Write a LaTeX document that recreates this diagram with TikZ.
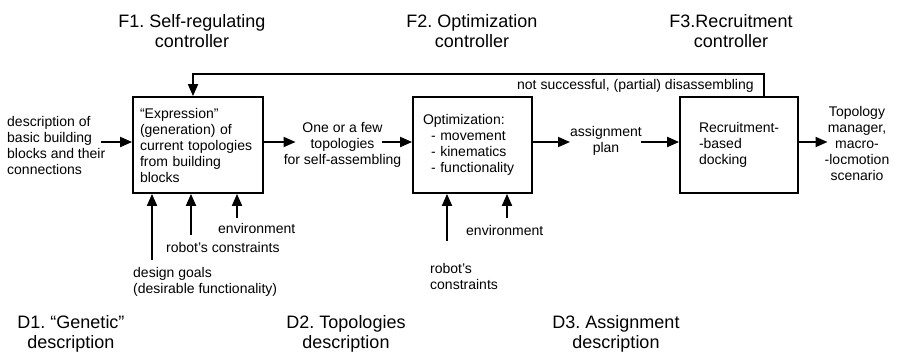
\documentclass[tikz,border=0pt]{standalone}
\usepackage{fontspec}
\setmainfont{Liberation Sans}
\usepackage{tikz}
\usetikzlibrary{arrows.meta}
\frenchspacing
\hyphenpenalty=10000

\tikzset{
  lbl/.style={font=\fontsize{14}{16}\selectfont, inner sep=0pt},
  ttl/.style={font=\fontsize{18}{20}\selectfont, inner sep=0pt, align=center},
  block/.style={draw, line width=1.8pt, minimum height=96pt, align=left,
    inner ysep=0pt, font=\fontsize{14}{16}\selectfont},
  arr/.style={line width=1.8pt, -{Triangle[length=12pt,width=10pt]}}
}

\begin{document}
\begin{tikzpicture}[x=1pt, y=-1pt]
    \useasboundingbox (0,0) rectangle (897,351);

    % controllers
    \node[ttl] (F1) at (192,31) {F1. Self-regulating\\controller};
    \node[ttl] (F2) at (472,31) {F2. Optimization\\controller};
    \node[ttl] (F3) at (731,31) {F3.Recruitment\\controller};

    % blocks
    \node[block, text width=116pt, inner xsep=7pt] (b1) at (198,145)
      {“Expression”\\(generation) of\\current topologies\\from building\\blocks};
    \node[block, text width=99pt, inner xsep=10pt] (b2) at (472.5,145)
      {Optimization:\\\hspace*{8pt}- movement\\\hspace*{8pt}- kinematics\\\hspace*{8pt}- functionality};
    \node[block, text width=90pt, inner xsep=14pt] (b3) at (739,145)
      {\hspace*{5pt}Recruitment-\\\hspace*{5pt}-based\\\hspace*{5pt}docking};
    \coordinate (b1w) at ([yshift=3pt]b1.west);
    \coordinate (b1e) at ([yshift=3pt]b1.east);
    \coordinate (b2w) at ([yshift=3pt]b2.west);
    \coordinate (b2e) at ([yshift=3pt]b2.east);
    \coordinate (b3w) at ([yshift=3pt]b3.west);
    \coordinate (b3e) at ([yshift=3pt]b3.east);

    % flow texts
    \node[lbl, align=left, anchor=west] (in) at (7,145.5)
      {description of\\basic building\\blocks and their\\connections};
    \node[lbl, align=center] (top) at (342.5,145)
      {One or a few\\topologies\\for self-assembling};
    \node[lbl, align=center] (plan) at (606,140.5) {assignment\\plan};
    \node[lbl, align=center] (out) at (857,143.5)
      {Topology\\manager,\\macro-\\-locmotion\\scenario};

    \draw[arr] ([xshift=-31pt]b1w) -- (b1w);
    \draw[arr] (b1e) -- ([xshift=12pt]top.west |- b1e);
    \draw[arr] ([xshift=-19pt]top.east |- b2w) -- (b2w);
    \draw[arr] (b2e) -- (plan.west |- b2e);
    \draw[arr] ([xshift=-1pt]plan.east |- b3w) -- (b3w);
    \draw[arr] (b3e) -- ([xshift=3pt]out.west |- b3e);

    % feedback
    \coordinate (fbc) at ([xshift=-35pt,yshift=22pt]b3.north east);
    \draw[arr] ([xshift=-35pt]b3.north east) -- (fbc) -| ([xshift=-5pt]b1.north);
    \node[lbl, anchor=base east] (fb) at ([xshift=-10pt,yshift=-15pt]fbc)
      {not successful, (partial) disassembling};

    % inputs from below
    \node[lbl, anchor=base west] (env1) at (218,233) {environment};
    \node[lbl, anchor=base west] (rc1) at (166,252) {robot’s constraints};
    \node[lbl, align=left, anchor=west] (dg1) at (133,281.5)
      {design goals\\(desirable functionality)};
    \draw[arr] ([xshift=19pt,yshift=7pt]dg1.north west) -- ([xshift=19pt]dg1.north west |- b1.south);
    \draw[arr] ([xshift=25pt,yshift=7pt]rc1.north west) -- ([xshift=25pt]rc1.north west |- b1.south);
    \draw[arr] ([xshift=19pt,yshift=5pt]env1.north west) -- ([xshift=19pt]env1.north west |- b1.south);

    \node[lbl, anchor=base west] (env2) at (466,235) {environment};
    \node[lbl, align=left, anchor=west] (rc2) at (430,276.5) {robot’s\\constraints};
    \draw[arr] ([xshift=17pt,yshift=22pt]rc2.north west) -- ([xshift=17pt]rc2.north west |- b2.south);
    \draw[arr] ([xshift=41pt,yshift=7pt]env2.north west) -- ([xshift=41pt]env2.north west |- b2.south);

    % descriptions
    \node[ttl] (D1) at (71,333.5) {D1. “Genetic”\\description};
    \node[ttl] (D2) at (346,333.5) {D2. Topologies\\description};
    \node[ttl] (D3) at (616,333.5) {D3. Assignment\\description};
\end{tikzpicture}
\end{document}
